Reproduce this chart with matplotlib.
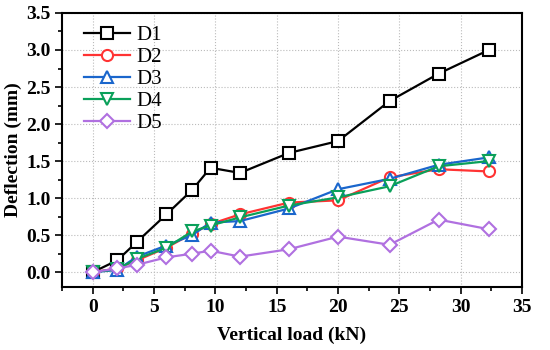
import matplotlib
matplotlib.use('Agg')
import matplotlib.pyplot as plt
from matplotlib.ticker import MultipleLocator

# vertical load (kN)
load = [0, 2, 3.6, 6, 8.1, 9.6, 12, 16, 20, 24.2, 28.2, 32.3]

# deflection (mm)
d1 = [0.0, 0.16, 0.41, 0.78, 1.11, 1.41, 1.34, 1.61, 1.77, 2.31, 2.68, 3.0]
d2 = [0.0, 0.05, 0.16, 0.33, 0.52, 0.65, 0.78, 0.94, 0.97, 1.28, 1.39, 1.36]
d3 = [0.0, 0.03, 0.21, 0.36, 0.50, 0.67, 0.69, 0.86, 1.12, 1.26, 1.45, 1.55]
d4 = [0.0, 0.04, 0.18, 0.33, 0.55, 0.63, 0.74, 0.90, 1.01, 1.16, 1.43, 1.50]
d5 = [0.0, 0.05, 0.10, 0.20, 0.25, 0.29, 0.21, 0.31, 0.48, 0.37, 0.71, 0.58]

names = ['D1', 'D2', 'D3', 'D4', 'D5']
colors = ['black', '#ff3333', '#1a66cc', '#0aa05a', '#b070e0']
markers = ['s', 'o', '^', 'v', 'D']
sizes = [8, 8, 8.5, 8.5, 7.5]

plt.rcParams['font.family'] = ['Liberation Serif', 'DejaVu Serif']

fig = plt.figure(figsize=(5.5, 3.5), dpi=100)
ax = fig.add_axes([0.113, 0.18, 0.836, 0.783])

for y, name, c, m, s in zip([d1, d2, d3, d4, d5], names, colors, markers, sizes):
    ax.plot(load, y, color=c, marker=m, markersize=s, markerfacecolor='white',
            markeredgecolor=c, markeredgewidth=1.5, linewidth=1.6, label=name)

ax.set_xlim(-2.5, 35)
ax.set_ylim(-0.2, 3.5)
ax.xaxis.set_major_locator(MultipleLocator(5))
ax.xaxis.set_minor_locator(MultipleLocator(2.5))
ax.yaxis.set_major_locator(MultipleLocator(0.5))
ax.yaxis.set_minor_locator(MultipleLocator(0.25))
ax.set_yticks([0, 0.5, 1.0, 1.5, 2.0, 2.5, 3.0, 3.5])
ax.set_yticklabels(['0.0', '0.5', '1.0', '1.5', '2.0', '2.5', '3.0', '3.5'])

ax.grid(True, which='major', linestyle=':', color='#bbbbbb', linewidth=0.8)
ax.tick_params(which='both', direction='out', width=1.2)
ax.tick_params(which='major', length=5, labelsize=14)
ax.tick_params(which='minor', length=3)
for lab in ax.get_xticklabels() + ax.get_yticklabels():
    lab.set_fontweight('bold')
for sp in ax.spines.values():
    sp.set_linewidth(1.5)

ax.set_xlabel('Vertical load (kN)', fontsize=14, fontweight='bold', labelpad=8)
ax.set_ylabel('Deflection (mm)', fontsize=14, fontweight='bold', labelpad=3)

ax.legend(loc='upper left', bbox_to_anchor=(0.02, 1.0), frameon=False,
          fontsize=15, handlelength=2.2, handletextpad=0.3, labelspacing=0.12,
          borderaxespad=0.2)

fig.savefig('out.png', dpi=100)
